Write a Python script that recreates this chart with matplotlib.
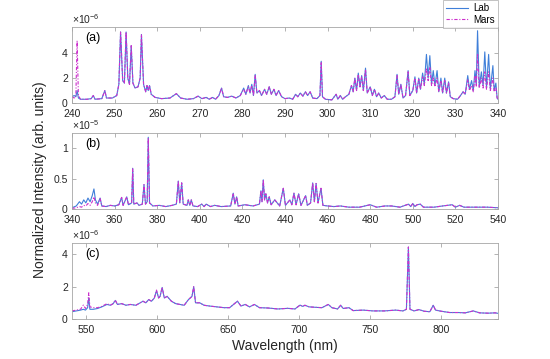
import matplotlib
matplotlib.use("Agg")
import matplotlib.pyplot as plt
import numpy as np

plt.rcParams['font.family'] = ['Liberation Sans', 'DejaVu Sans']
plt.rcParams['mathtext.fontset'] = 'custom'
plt.rcParams['mathtext.rm'] = 'Liberation Sans'
plt.rcParams['mathtext.it'] = 'Liberation Sans'

# ---------------- data (intensities in units of the panel multiplier) -------------
# Panel (a): 240-340 nm, x 1e-6
wl_a = [240.0, 240.5, 240.9, 241.2, 241.5, 242.0, 243.5, 244.5, 245.0, 245.4, 247.0, 247.7, 248.1,
        249.5, 250.5, 251.0, 251.4, 251.9, 252.3, 252.7, 253.1, 253.5, 253.9, 254.3, 254.8, 255.5,
        256.0, 256.3, 256.8, 257.3, 257.6, 257.9, 258.2, 258.6, 259.5, 261.0, 263.0, 264.5, 265.5,
        267.0, 268.5, 269.6, 270.5, 271.5, 272.2, 273.0, 273.7, 274.5, 275.1, 275.6, 276.5, 277.5,
        278.5, 279.5, 280.3, 280.8, 281.4, 281.8, 282.2, 282.6, 283.0, 283.4, 284.0, 284.5, 285.2,
        285.7, 286.3, 286.8, 287.4, 287.9, 288.5, 289.2, 290.0, 291.0, 291.8, 292.5, 293.0, 293.6,
        294.2, 294.8, 295.3, 295.9, 296.5, 297.5, 298.2, 298.5, 298.8, 299.5, 301.0, 302.0, 302.4,
        303.0, 303.5, 304.2, 305.0, 305.6, 306.0, 306.4, 306.8, 307.2, 307.6, 308.0, 308.4, 308.9,
        309.3, 310.0, 310.5, 311.0, 311.5, 312.0, 312.6, 313.3, 314.0, 315.0, 315.8, 316.3, 316.7,
        317.2, 317.7, 318.3, 318.9, 319.3, 320.0, 320.5, 320.9, 321.4, 321.8, 322.3, 322.7, 323.2,
        323.6, 324.0, 324.4, 324.8, 325.2, 325.7, 326.1, 326.6, 327.0, 327.5, 327.9, 328.4, 328.8,
        329.5, 330.5, 331.2, 331.8, 332.3, 332.9, 333.3, 333.8, 334.2, 334.6, 334.9, 335.2, 335.6,
        336.1, 336.5, 336.9, 337.3, 337.8, 338.2, 338.8, 339.1, 339.5, 339.8, 340.0]
lab_a = [0.5, 0.6, 0.5, 1.0, 0.4, 0.3, 0.3, 0.35, 0.6, 0.3, 0.35, 1.0, 0.4,
         0.4, 0.6, 1.5, 5.7, 1.8, 1.6, 5.7, 2.0, 1.5, 4.6, 1.6, 1.2, 1.3,
         2.0, 5.5, 1.5, 0.9, 1.4, 1.0, 1.4, 0.7, 0.45, 0.35, 0.4, 0.75, 0.4,
         0.3, 0.35, 0.55, 0.35, 0.45, 0.3, 0.45, 0.3, 0.6, 1.2, 0.5, 0.45, 0.55,
         0.4, 0.6, 1.2, 0.7, 1.4, 0.8, 1.5, 0.6, 2.3, 0.8, 1.0, 0.6, 1.1,
         0.7, 1.3, 0.7, 1.1, 0.6, 1.0, 0.5, 0.35, 0.4, 0.3, 0.7, 0.5, 0.8,
         0.55, 0.9, 0.6, 0.9, 0.4, 0.35, 0.6, 3.35, 0.5, 0.3, 0.25, 0.7, 0.3,
         0.6, 0.3, 0.5, 0.7, 1.4, 0.9, 2.0, 1.0, 2.4, 1.3, 2.2, 1.0, 2.8,
         0.8, 1.3, 0.6, 1.1, 0.5, 0.8, 0.4, 0.6, 0.3, 0.3, 0.5, 2.3, 0.7,
         1.5, 0.4, 0.6, 2.6, 0.6, 1.0, 2.1, 0.8, 2.0, 1.1, 2.4, 1.5, 3.9,
         2.0, 3.8, 1.5, 2.6, 1.4, 2.6, 0.9, 2.0, 0.8, 2.0, 0.8, 1.7, 0.5,
         0.35, 0.3, 0.6, 0.9, 0.7, 2.2, 1.1, 1.8, 1.0, 2.6, 1.5, 5.8, 1.3,
         2.5, 1.4, 4.1, 1.2, 3.9, 1.1, 3.0, 1.0, 1.6, 0.4, 0.3]
mars_a = [0.5, 0.4, 0.5, 5.0, 0.6, 0.3, 0.3, 0.35, 0.6, 0.3, 0.35, 1.0, 0.4,
          0.4, 0.6, 1.5, 5.7, 1.8, 1.6, 5.7, 2.0, 1.5, 4.6, 1.6, 1.2, 1.3,
          2.0, 5.5, 1.5, 0.9, 1.4, 1.0, 1.4, 0.7, 0.45, 0.35, 0.4, 0.75, 0.4,
          0.3, 0.35, 0.55, 0.35, 0.45, 0.3, 0.45, 0.3, 0.6, 1.2, 0.5, 0.45, 0.55,
          0.4, 0.6, 1.1, 0.7, 1.3, 0.8, 1.4, 0.6, 2.2, 0.8, 1.0, 0.6, 1.1,
          0.7, 1.3, 0.7, 1.1, 0.6, 1.0, 0.5, 0.35, 0.4, 0.3, 0.7, 0.5, 0.8,
          0.55, 0.9, 0.6, 0.9, 0.4, 0.35, 0.6, 3.3, 0.5, 0.3, 0.25, 0.7, 0.3,
          0.6, 0.3, 0.5, 0.7, 1.4, 0.9, 2.0, 1.0, 2.3, 1.3, 2.1, 1.0, 2.7,
          0.8, 1.3, 0.6, 1.1, 0.5, 0.8, 0.4, 0.6, 0.3, 0.3, 0.5, 2.2, 0.7,
          1.5, 0.4, 0.6, 2.5, 0.6, 1.0, 2.0, 0.8, 1.9, 1.1, 2.1, 1.4, 2.8,
          1.8, 2.9, 1.4, 2.0, 1.3, 2.0, 0.9, 1.8, 0.8, 1.8, 0.8, 1.6, 0.5,
          0.35, 0.3, 0.6, 0.9, 0.7, 1.9, 1.0, 1.4, 0.9, 2.2, 1.3, 3.9, 1.2,
          2.0, 1.2, 2.5, 1.1, 2.5, 1.0, 2.0, 0.9, 1.2, 0.4, 0.3]

# Panel (b): 340-540 nm, x 1e-5
wl_b = [340.0, 342.0, 343.5, 344.5, 345.5, 346.5, 347.5, 348.5, 349.5, 350.3, 351.0, 352.0, 353.2,
        354.0, 356.0, 358.0, 360.0, 362.0, 363.3, 364.0, 365.7, 366.5, 368.0, 368.5, 369.0, 370.5,
        371.5, 373.0, 373.8, 374.5, 375.3, 375.8, 376.4, 378.0, 381.0, 384.0, 387.0, 389.0, 389.9,
        390.6, 391.5, 392.2, 394.0, 394.6, 395.3, 396.0, 396.8, 399.0, 400.9, 402.0, 403.0, 405.0,
        407.0, 410.0, 414.5, 415.7, 416.5, 417.3, 418.0, 421.2, 425.0, 428.0, 428.7, 429.2, 429.8,
        430.4, 431.0, 431.8, 432.6, 433.5, 435.2, 437.5, 439.2, 440.2, 442.3, 443.2, 444.2, 445.2,
        446.4, 447.5, 449.7, 450.5, 452.0, 453.0, 453.8, 454.6, 455.5, 456.9, 457.8, 460.0, 463.0,
        466.0, 470.0, 475.0, 480.0, 483.0, 487.0, 490.0, 494.0, 498.0, 499.0, 500.0, 501.0, 502.0,
        503.5, 505.0, 510.0, 514.0, 518.5, 520.0, 522.0, 524.0, 530.0, 535.0, 540.0]
lab_b = [0.02, 0.05, 0.12, 0.08, 0.15, 0.10, 0.18, 0.12, 0.22, 0.33, 0.15, 0.08, 0.18,
         0.05, 0.04, 0.06, 0.05, 0.07, 0.19, 0.06, 0.20, 0.07, 0.10, 0.67, 0.08, 0.10,
         0.06, 0.08, 0.40, 0.08, 0.12, 1.18, 0.10, 0.05, 0.06, 0.04, 0.06, 0.08, 0.46,
         0.10, 0.43, 0.08, 0.06, 0.15, 0.06, 0.15, 0.05, 0.04, 0.08, 0.04, 0.08, 0.04,
         0.06, 0.04, 0.05, 0.26, 0.08, 0.20, 0.05, 0.07, 0.05, 0.08, 0.30, 0.12, 0.48,
         0.15, 0.25, 0.10, 0.20, 0.07, 0.15, 0.05, 0.34, 0.06, 0.15, 0.07, 0.26, 0.07,
         0.25, 0.06, 0.22, 0.06, 0.10, 0.43, 0.12, 0.42, 0.10, 0.34, 0.06, 0.05, 0.04,
         0.05, 0.03, 0.03, 0.07, 0.03, 0.05, 0.05, 0.03, 0.08, 0.04, 0.09, 0.04, 0.07,
         0.08, 0.03, 0.03, 0.05, 0.07, 0.03, 0.06, 0.03, 0.03, 0.03, 0.02]
mars_b = [0.01, 0.02, 0.04, 0.03, 0.06, 0.05, 0.09, 0.06, 0.12, 0.20, 0.10, 0.06, 0.17,
          0.05, 0.04, 0.06, 0.05, 0.07, 0.19, 0.06, 0.20, 0.07, 0.10, 0.66, 0.08, 0.10,
          0.06, 0.08, 0.40, 0.08, 0.12, 1.17, 0.10, 0.05, 0.06, 0.04, 0.06, 0.08, 0.46,
          0.10, 0.43, 0.08, 0.06, 0.15, 0.06, 0.15, 0.05, 0.04, 0.08, 0.04, 0.08, 0.04,
          0.06, 0.04, 0.05, 0.26, 0.08, 0.20, 0.05, 0.07, 0.05, 0.08, 0.30, 0.12, 0.48,
          0.15, 0.25, 0.10, 0.20, 0.07, 0.15, 0.05, 0.34, 0.06, 0.15, 0.07, 0.26, 0.07,
          0.25, 0.06, 0.22, 0.06, 0.10, 0.43, 0.12, 0.42, 0.10, 0.34, 0.06, 0.05, 0.04,
          0.05, 0.03, 0.03, 0.07, 0.03, 0.05, 0.05, 0.03, 0.08, 0.04, 0.09, 0.04, 0.07,
          0.08, 0.03, 0.03, 0.05, 0.07, 0.03, 0.06, 0.03, 0.03, 0.03, 0.02]

# Panel (c): 540-840 nm, x 1e-6
wl_c = [540.0, 543.0, 546.0, 548.0, 549.5, 551.0, 551.8, 552.6, 555.0, 558.0, 561.0, 564.6, 567.0,
        569.0, 570.5, 572.0, 575.0, 578.0, 581.0, 585.0, 588.0, 590.0, 592.0, 594.0, 596.0, 598.0,
        599.5, 601.0, 602.0, 603.5, 605.0, 607.0, 610.0, 613.0, 616.0, 619.0, 622.0, 624.5, 625.7,
        627.0, 630.0, 633.0, 637.0, 642.0, 647.0, 651.0, 656.5, 659.0, 662.0, 665.0, 668.5, 672.0,
        678.0, 685.0, 692.0, 697.0, 700.6, 702.5, 704.0, 707.0, 712.0, 716.0, 720.5, 723.0, 727.0,
        729.2, 731.0, 735.0, 738.0, 745.0, 752.0, 760.0, 768.0, 773.0, 775.5, 776.9, 778.0, 781.0,
        784.3, 788.0, 792.0, 794.4, 796.0, 800.0, 806.0, 812.0, 817.0, 822.6, 827.0, 833.0, 838.0,
        840.0]
lab_c = [0.45, 0.50, 0.55, 0.60, 0.55, 0.70, 1.30, 0.60, 0.60, 0.65, 0.75, 0.90, 0.85,
         0.95, 1.15, 0.90, 0.95, 0.85, 0.90, 0.85, 1.00, 1.10, 1.00, 1.20, 1.10, 1.30,
         1.75, 1.30, 1.40, 1.95, 1.30, 1.40, 1.10, 0.95, 0.90, 0.85, 1.20, 1.40, 2.00,
         1.00, 1.00, 0.85, 0.80, 0.75, 0.70, 0.70, 1.10, 0.80, 0.90, 0.75, 0.90, 0.70,
         0.68, 0.62, 0.66, 0.62, 0.86, 0.78, 0.85, 0.75, 0.72, 0.70, 0.90, 0.70, 0.62,
         0.85, 0.65, 0.70, 0.52, 0.55, 0.50, 0.50, 0.55, 0.50, 0.60, 4.45, 0.60, 0.50,
         0.58, 0.48, 0.45, 0.85, 0.55, 0.48, 0.40, 0.40, 0.38, 0.50, 0.38, 0.36, 0.38,
         0.35]
mars_c = [0.50, 0.55, 0.60, 0.86, 0.65, 0.90, 1.62, 0.75, 0.70, 0.70, 0.78, 0.95, 0.85,
          0.95, 1.17, 0.90, 0.95, 0.85, 0.90, 0.85, 1.00, 1.10, 1.00, 1.20, 1.10, 1.30,
          1.79, 1.30, 1.40, 1.96, 1.30, 1.40, 1.10, 0.95, 0.90, 0.85, 1.20, 1.40, 2.00,
          1.00, 1.00, 0.85, 0.80, 0.75, 0.70, 0.70, 1.10, 0.80, 0.90, 0.75, 0.90, 0.70,
          0.68, 0.62, 0.66, 0.62, 0.86, 0.78, 0.85, 0.75, 0.72, 0.70, 0.90, 0.70, 0.62,
          0.85, 0.65, 0.70, 0.52, 0.55, 0.50, 0.50, 0.55, 0.50, 0.60, 4.45, 0.60, 0.50,
          0.58, 0.48, 0.45, 0.85, 0.55, 0.48, 0.40, 0.40, 0.38, 0.50, 0.38, 0.36, 0.38,
          0.35]

panels = [
    dict(wl=wl_a, lab=lab_a, mars=mars_a, xlim=(240, 340), xticks=[240, 250, 260, 270, 280, 290, 300, 310, 320, 330, 340],
         ylim=(0, 6.1), yticks=[0, 2, 4], yticklabels=['0', '2', '4'], mult='-6', label='(a)'),
    dict(wl=wl_b, lab=lab_b, mars=mars_b, xlim=(340, 540), xticks=list(range(340, 541, 20)),
         ylim=(0, 1.25), yticks=[0, 0.5, 1.0], yticklabels=['0', '0.5', '1'], mult='-5', label='(b)'),
    dict(wl=wl_c, lab=lab_c, mars=mars_c, xlim=(540, 840), xticks=[550, 600, 650, 700, 750, 800],
         ylim=(0, 4.7), yticks=[0, 2, 4], yticklabels=['0', '2', '4'], mult='-6', label='(c)'),
]

LAB_COLOR = '#3f7fd9'
MARS_COLOR = '#cc2fcc'
EDGE = '#a6a6a6'
TXT = '#262626'

fig = plt.figure(figsize=(5.5, 3.59), dpi=100)
W, H = 550, 359
left, right = 72, 498
tops = [27, 133, 243]
ax_h = 76

axes = []
for p, top in zip(panels, tops):
    ax = fig.add_axes([left / W, 1 - (top + ax_h) / H, (right - left) / W, ax_h / H])
    l1, = ax.plot(p['wl'], p['lab'], color=LAB_COLOR, lw=0.8, label='Lab')
    l2, = ax.plot(p['wl'], p['mars'], color=MARS_COLOR, lw=0.8, ls=(0, (3, 1.5, 1, 1.5)), label='Mars')
    ax.set_xlim(*p['xlim'])
    ax.set_ylim(*p['ylim'])
    ax.set_xticks(p['xticks'])
    ax.set_yticks(p['yticks'])
    ax.set_yticklabels(p['yticklabels'])
    ax.tick_params(direction='in', length=3, width=0.6, color=EDGE, labelcolor=TXT, labelsize=7.5,
                   top=True, right=True)
    ax.tick_params(axis='x', pad=4.5)
    ax.tick_params(axis='y', pad=3)
    for s in ax.spines.values():
        s.set_color(EDGE)
        s.set_linewidth(0.6)
    ax.text(0.0, 1.015, r'$\times10^{' + p['mult'] + '}$', transform=ax.transAxes, fontsize=7.5,
            color=TXT, ha='left', va='bottom')
    ax.text(0.03, 0.86, p['label'], transform=ax.transAxes, fontsize=9, color='black',
            ha='left', va='center')
    axes.append(ax)
    handles = [l1, l2]

leg = fig.legend(handles, ['Lab', 'Mars'], loc='upper right', bbox_to_anchor=(right / W, 1.0),
                 fontsize=7, frameon=True, fancybox=False, handlelength=2.2, borderpad=0.3,
                 labelspacing=0.2, handletextpad=0.6, borderaxespad=0.0)
leg.get_frame().set_edgecolor(EDGE)
leg.get_frame().set_linewidth(0.6)

fig.text(285 / W, 1 - 346 / H, 'Wavelength (nm)', ha='center', va='center', fontsize=10, color=TXT)
fig.text(40 / W, 1 - 180 / H, 'Normalized Intensity (arb. units)', ha='center', va='center',
         rotation=90, fontsize=10, color=TXT)

fig.savefig('out.png', dpi=100)
